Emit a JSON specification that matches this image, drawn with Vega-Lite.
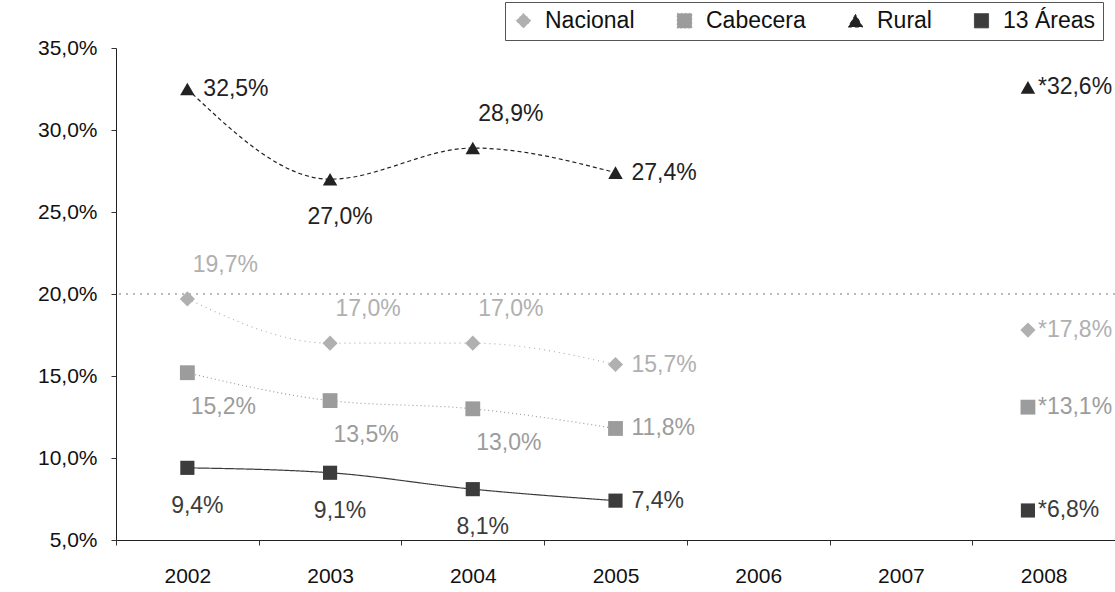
{
  "$schema": "https://vega.github.io/schema/vega-lite/v6.json",
  "width": 999,
  "height": 492,
  "autosize": {"type": "none"},
  "padding": {"left": 116, "top": 48, "right": 0, "bottom": 52},
  "background": "white",
  "config": {
    "locale": {"number": {"decimal": ",", "thousands": ".", "grouping": [3], "currency": ["", " €"]}},
    "view": {"stroke": null},
    "font": "Liberation Sans",
    "text": {"font": "Liberation Sans"}
  },
  "data": {
    "values": [
      {"serie": "Nacional", "year": "2002", "v": 0.197},
      {"serie": "Nacional", "year": "2003", "v": 0.170},
      {"serie": "Nacional", "year": "2004", "v": 0.170},
      {"serie": "Nacional", "year": "2005", "v": 0.157},
      {"serie": "Nacional", "year": "2008", "v": 0.178},
      {"serie": "Cabecera", "year": "2002", "v": 0.152},
      {"serie": "Cabecera", "year": "2003", "v": 0.135},
      {"serie": "Cabecera", "year": "2004", "v": 0.130},
      {"serie": "Cabecera", "year": "2005", "v": 0.118},
      {"serie": "Cabecera", "year": "2008", "v": 0.131},
      {"serie": "Rural", "year": "2002", "v": 0.325},
      {"serie": "Rural", "year": "2003", "v": 0.270},
      {"serie": "Rural", "year": "2004", "v": 0.289},
      {"serie": "Rural", "year": "2005", "v": 0.274},
      {"serie": "Rural", "year": "2008", "v": 0.326},
      {"serie": "13 Áreas", "year": "2002", "v": 0.094},
      {"serie": "13 Áreas", "year": "2003", "v": 0.091},
      {"serie": "13 Áreas", "year": "2004", "v": 0.081},
      {"serie": "13 Áreas", "year": "2005", "v": 0.074},
      {"serie": "13 Áreas", "year": "2008", "v": 0.068}
    ]
  },
  "layer": [
    {
      "data": {"values": [{"g": 0.2}]},
      "mark": {"type": "rule", "color": "#777777", "strokeDash": [2, 5], "strokeWidth": 1},
      "encoding": {
        "y": {"field": "g", "type": "quantitative"}
      }
    },
    {
      "transform": [{"filter": "datum.year != '2008'"}],
      "mark": {"type": "line", "interpolate": "monotone", "strokeWidth": 1.2},
      "encoding": {
        "x": {
          "field": "year", "type": "ordinal", "bandPosition": 0.5,
          "scale": {"type": "band", "domain": ["2002", "2003", "2004", "2005", "2006", "2007", "2008"], "paddingInner": 0, "paddingOuter": 0},
          "axis": {"title": null, "labelAngle": 0, "labelFontSize": 21, "labelColor": "#111111", "labelPadding": 20, "tickBand": "extent", "tickSize": 5, "tickColor": "#333333", "domainColor": "#222222", "grid": false}
        },
        "y": {
          "field": "v", "type": "quantitative",
          "scale": {"domain": [0.05, 0.35], "nice": false, "zero": false},
          "axis": {"title": null, "values": [0.05, 0.10, 0.15, 0.20, 0.25, 0.30, 0.35], "format": ".1%", "labelFontSize": 21, "labelColor": "#111111", "labelPadding": 14, "tickSize": 5, "tickColor": "#333333", "domainColor": "#222222", "grid": false}
        },
        "color": {
          "field": "serie", "type": "nominal",
          "scale": {"domain": ["Nacional", "Cabecera", "Rural", "13 Áreas"], "range": ["#b0b0b0", "#9c9c9c", "#222222", "#3c3c3c"]},
          "legend": {
            "orient": "none", "legendX": 389, "legendY": -46, "direction": "horizontal", "columns": 4,
            "title": null, "labelFontSize": 23, "labelColor": "#111111", "labelOffset": 10,
            "columnPadding": 38, "padding": 7, "strokeColor": "#555555", "fillColor": "white",
            "symbolStrokeWidth": 1, "symbolSize": 120
          }
        },
        "strokeDash": {
          "field": "serie", "type": "nominal",
          "scale": {"domain": ["Nacional", "Cabecera", "Rural", "13 Áreas"], "range": [[1, 4], [1, 3], [4, 3], [1, 0]]},
          "legend": null
        }
      }
    },
    {
      "transform": [{"filter": "datum.year != '2008'"}],
      "mark": {"type": "point", "filled": true, "opacity": 1, "strokeWidth": 1},
      "encoding": {
        "x": {"field": "year", "type": "ordinal", "bandPosition": 0.5},
        "y": {"field": "v", "type": "quantitative"},
        "color": {"field": "serie", "type": "nominal"},
        "shape": {
          "field": "serie", "type": "nominal",
          "scale": {"domain": ["Nacional", "Cabecera", "Rural", "13 Áreas"], "range": ["diamond", "square", "triangle-up", "square"]}
        },
        "size": {
          "field": "serie", "type": "nominal",
          "scale": {"domain": ["Nacional", "Cabecera", "Rural", "13 Áreas"], "range": [230, 200, 110, 420]}
        }
      }
    },
    {
      "transform": [{"filter": "datum.year == '2008'"}],
      "mark": {"type": "point", "filled": true, "opacity": 1, "strokeWidth": 1},
      "encoding": {
        "x": {"field": "year", "type": "ordinal", "bandPosition": 0.39},
        "y": {"field": "v", "type": "quantitative"},
        "color": {"field": "serie", "type": "nominal"},
        "shape": {"field": "serie", "type": "nominal"},
        "size": {"field": "serie", "type": "nominal"}
      }
    },
    {
      "transform": [{"filter": "datum.year == '2005' || (datum.serie == 'Rural' && datum.year == '2002')"}],
      "mark": {"type": "text", "align": "left", "baseline": "middle", "dx": 16, "fontSize": 23},
      "encoding": {
        "x": {"field": "year", "type": "ordinal", "bandPosition": 0.5},
        "y": {"field": "v", "type": "quantitative"},
        "text": {"field": "v", "type": "quantitative", "format": ".1%"},
        "color": {"field": "serie", "type": "nominal"}
      }
    },
    {
      "transform": [{"filter": "(datum.serie == 'Nacional' && datum.year < '2005') || (datum.serie == 'Rural' && datum.year == '2004')"}],
      "mark": {"type": "text", "align": "center", "baseline": "middle", "dx": 38, "dy": -34, "fontSize": 23},
      "encoding": {
        "x": {"field": "year", "type": "ordinal", "bandPosition": 0.5},
        "y": {"field": "v", "type": "quantitative"},
        "text": {"field": "v", "type": "quantitative", "format": ".1%"},
        "color": {"field": "serie", "type": "nominal"}
      }
    },
    {
      "transform": [{"filter": "datum.serie == 'Cabecera' && datum.year < '2005'"}],
      "mark": {"type": "text", "align": "center", "baseline": "middle", "dx": 36, "dy": 34, "fontSize": 23},
      "encoding": {
        "x": {"field": "year", "type": "ordinal", "bandPosition": 0.5},
        "y": {"field": "v", "type": "quantitative"},
        "text": {"field": "v", "type": "quantitative", "format": ".1%"},
        "color": {"field": "serie", "type": "nominal"}
      }
    },
    {
      "transform": [{"filter": "(datum.serie == 'Rural' && datum.year == '2003') || (datum.serie == '13 Áreas' && datum.year < '2005')"}],
      "mark": {"type": "text", "align": "center", "baseline": "middle", "dx": 10, "dy": 38, "fontSize": 23},
      "encoding": {
        "x": {"field": "year", "type": "ordinal", "bandPosition": 0.5},
        "y": {"field": "v", "type": "quantitative"},
        "text": {"field": "v", "type": "quantitative", "format": ".1%"},
        "color": {"field": "serie", "type": "nominal"}
      }
    },
    {
      "transform": [
        {"filter": "datum.year == '2008'"},
        {"calculate": "'*' + format(datum.v, '.1%')", "as": "lbl"}
      ],
      "mark": {"type": "text", "align": "left", "baseline": "middle", "dx": 10, "fontSize": 23},
      "encoding": {
        "x": {"field": "year", "type": "ordinal", "bandPosition": 0.39},
        "y": {"field": "v", "type": "quantitative"},
        "text": {"field": "lbl", "type": "nominal"},
        "color": {"field": "serie", "type": "nominal"}
      }
    }
  ]
}
